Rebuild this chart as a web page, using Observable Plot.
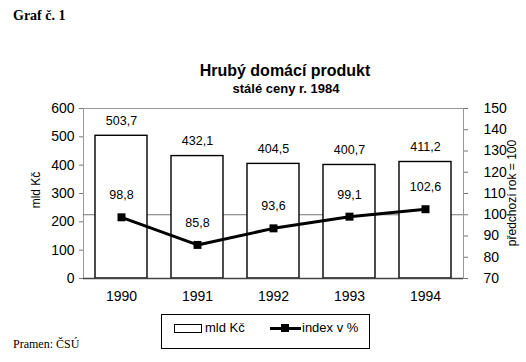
<!DOCTYPE html>
<html><head><meta charset="utf-8">
<script src="https://cdn.jsdelivr.net/npm/d3@7"></script>
<script src="https://cdn.jsdelivr.net/npm/@observablehq/plot@0.6"></script>
<style>
body{margin:0;background:#fff;}
#wrap{position:relative;width:526px;height:362px;overflow:hidden;font-family:Arial,"Liberation Sans",sans-serif;color:#000;}
.abs{position:absolute;white-space:nowrap;}
#graf{left:13px;top:8px;font:bold 14px "Liberation Serif","Times New Roman",serif;}
#title{left:0;width:570px;text-align:center;top:62px;font-weight:bold;font-size:16px;}
#subtitle{left:0;width:572px;text-align:center;top:81px;font-weight:bold;font-size:13px;}
#chart{left:0;top:100px;}
#ylab{left:36px;top:190px;font-size:12px;transform:translate(-50%,-50%) rotate(-90deg);}
#y2lab{left:512px;top:193px;font-size:12px;transform:translate(-50%,-50%) rotate(-90deg);}
#legend{left:161px;top:314px;width:207px;height:33px;border:1px solid #000;font-size:13px;}
#pramen{left:13px;top:337px;font:12px "Liberation Serif","Times New Roman",serif;}
</style></head>
<body><div id="wrap">
<div id="graf" class="abs">Graf č. 1</div>
<div id="title" class="abs">Hrubý domácí produkt</div>
<div id="subtitle" class="abs">stálé ceny r. 1984</div>
<div id="chart" class="abs"></div>
<div id="ylab" class="abs">mld Kč</div>
<div id="y2lab" class="abs">předchozí rok = 100</div>
<div id="legend" class="abs">
  <div class="abs" style="left:12px;top:9px;width:26px;height:7px;border:1.5px solid #000;"></div>
  <div class="abs" style="left:43px;top:5px;">mld Kč</div>
  <div class="abs" style="left:108px;top:12px;width:31px;height:3px;background:#000;"></div>
  <div class="abs" style="left:119px;top:9px;width:8px;height:8px;background:#000;"></div>
  <div class="abs" style="left:140px;top:5px;">index v %</div>
</div>
<div id="pramen" class="abs">Pramen: ČSÚ</div>
</div>
<script>
const years = ["1990","1991","1992","1993","1994"];
const gdp = [503.7, 432.1, 404.5, 400.7, 411.2];
const indexPct = [98.8, 85.8, 93.6, 99.1, 102.6];
const leftTicks = [0,100,200,300,400,500,600];
const rightTicks = [70,80,90,100,110,120,130,140,150];
const refIndex = 100;

// right axis 70..150 mapped onto left 0..600
const toLeft = v => (v - 70) * 600 / 80;
const fmt = v => v.toFixed(1).replace(".", ",");
const data = years.map((y,i) => ({year:y, gdp:gdp[i], idx:indexPct[i]}));

const chart = Plot.plot({
  width: 526, height: 210,
  marginLeft: 83, marginRight: 63, marginTop: 8, marginBottom: 32,
  style: {fontFamily: "Arial, 'Liberation Sans', sans-serif", fontSize: "13px", color: "#000", background: "transparent"},
  x: {domain: years, paddingInner: 0.32, paddingOuter: 0.16, label: null},
  y: {domain: [0, 600], label: null},
  marks: [
    Plot.frame({stroke: "#999", strokeWidth: 1}),
    Plot.ruleY([toLeft(refIndex)], {stroke: "#777", strokeWidth: 1}),
    Plot.barY(data, {x: "year", y: "gdp", fill: "white", stroke: "#000", strokeWidth: 1.4}),
    Plot.ruleY([0], {stroke: "#444", strokeWidth: 1.5}),
    Plot.text(data, {x: "year", y: "gdp", text: d => fmt(d.gdp), dy: -15, fontSize: 12.5}),
    Plot.line(data, {x: "year", y: d => toLeft(d.idx), stroke: "#000", strokeWidth: 3}),
    Plot.dot(data, {x: "year", y: d => toLeft(d.idx), symbol: "square", r: 4.5, fill: "#000"}),
    Plot.text(data, {x: "year", y: d => toLeft(d.idx), text: d => fmt(d.idx), dy: -22, fontSize: 12.5}),
    Plot.axisY(leftTicks, {anchor: "left", tickSize: 4, tickPadding: 5, fontSize: 14, label: null, stroke: "#777"}),
    Plot.axisY(rightTicks.map(toLeft), {anchor: "right", tickSize: 4, tickPadding: 16, fontSize: 14, label: null, stroke: "#777",
      tickFormat: d => String(Math.round(d * 80 / 600 + 70))}),
    Plot.axisX({tickSize: 0, tickPadding: 13, fontSize: 14, label: null})
  ]
});
document.getElementById("chart").appendChild(chart);
</script>
</body></html>
